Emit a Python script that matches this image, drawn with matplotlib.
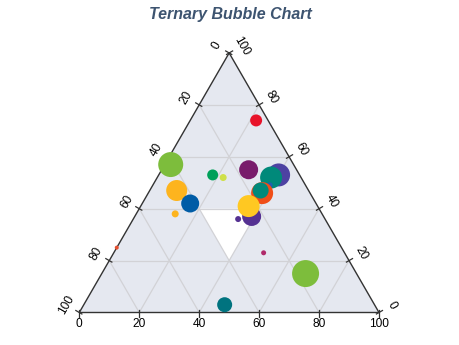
import numpy as np
import matplotlib
matplotlib.use("Agg")
import matplotlib.pyplot as plt

plt.rcParams['font.family'] = ['Liberation Sans', 'DejaVu Sans']

# ternary components: a = top, b = bottom-left, c = bottom-right (sum 100)
a_vals = [57, 47, 42, 38, 53, 52, 55, 53, 52, 49, 46, 47, 37, 41, 36, 74, 25, 23, 15, 3]
b_vals = [41, 44, 42, 49, 29, 26, 16, 7, 10, 12, 16, 16, 24, 23, 29, 4, 75, 27, 17, 50]
c_vals = [2, 9, 16, 13, 18, 22, 29, 40, 38, 39, 38, 37, 39, 36, 35, 22, 0, 50, 68, 47]
weights = [25, 21, 18, 7, 11, 7, 19, 23, 22, 6, 22, 16, 19, 22, 6, 12, 4, 5, 27, 15]
colors = ['#7dbd3c', '#fdb41e', '#005ca6', '#fdb41e', '#00a05a', '#cfe04a', '#781b6b',
          '#4d42a2', '#00897a', '#1f5fb0', '#f04e18', '#00897a', '#553192', '#ffc822',
          '#553192', '#e8132a', '#e55030', '#b02a6a', '#7dbd3c', '#00737f']

ticks = [0, 20, 40, 60, 80, 100]

SQ = np.sqrt(3) / 2
PX = 299.7  # pixels per unit


def tern(a, b, c):
    a = np.asarray(a, float) / 100
    c = np.asarray(c, float) / 100
    return c + a / 2, a * SQ


fig = plt.figure(figsize=(4.6, 3.45), dpi=100)
ax = fig.add_axes([0, 0, 1, 1])
ax.set_xlim(-79.3 / PX, (460 - 79.3) / PX)
ax.set_ylim(-(345 - 312.5) / PX, 312.5 / PX)
ax.axis('off')

# background
tx, ty = tern([100, 0, 0], [0, 100, 0], [0, 0, 100])
ax.fill(tx, ty, color='#e5e8f0', zorder=0, lw=0)
wx, wy = tern([40, 40, 20], [40, 20, 40], [20, 40, 40])
ax.fill(wx, wy, color='white', zorder=0.5, lw=0)

# grid
for k in [20, 40, 60, 80]:
    for p, q in [((k, 100 - k, 0), (k, 0, 100 - k)),
                 ((100 - k, k, 0), (0, k, 100 - k)),
                 ((100 - k, 0, k), (0, 100 - k, k))]:
        gx, gy = tern([p[0], q[0]], [p[1], q[1]], [p[2], q[2]])
        ax.plot(gx, gy, color='#d2d2d6', lw=0.9, zorder=1)

# edges
ax.plot(list(tx) + [tx[0]], list(ty) + [ty[0]], color='#333333', lw=1.0, zorder=2)

# ticks and labels
c30 = np.cos(np.pi / 6)
sides = [
    # bottom: c values
    (lambda v: tern(0, 100 - v, v), (0.0, -1.0), 0, 11.5),
    # left: b values
    (lambda v: tern(100 - v, v, 0), (-c30, 0.5), 60, 14.5),
    # right: a values
    (lambda v: tern(v, 0, 100 - v), (c30, 0.5), -60, 14.5),
]
for pos, (dx, dy), rot, off in sides:
    for v in ticks:
        x, y = pos(v)
        ax.plot([x - dx * 3 / PX, x + dx * 4 / PX], [y - dy * 3 / PX, y + dy * 4 / PX],
                color='#333333', lw=0.9, zorder=2)
        ax.text(x + dx * off / PX, y + dy * off / PX, str(v), rotation=rot,
                ha='center', va='center', fontsize=8.6, color='black',
                rotation_mode='anchor')

# bubbles
bx, by = tern(a_vals, b_vals, c_vals)
sizes = (np.array(weights) * 0.72) ** 2
ax.scatter(bx, by, s=sizes, c=colors, edgecolors='none', zorder=3)

fig.text(0.5, 1 - 15 / 345, 'Ternary Bubble Chart', ha='center', va='center',
         fontsize=11.5, fontweight='bold', fontstyle='italic', color='#3d5470')

fig.savefig('out.png', dpi=100)
